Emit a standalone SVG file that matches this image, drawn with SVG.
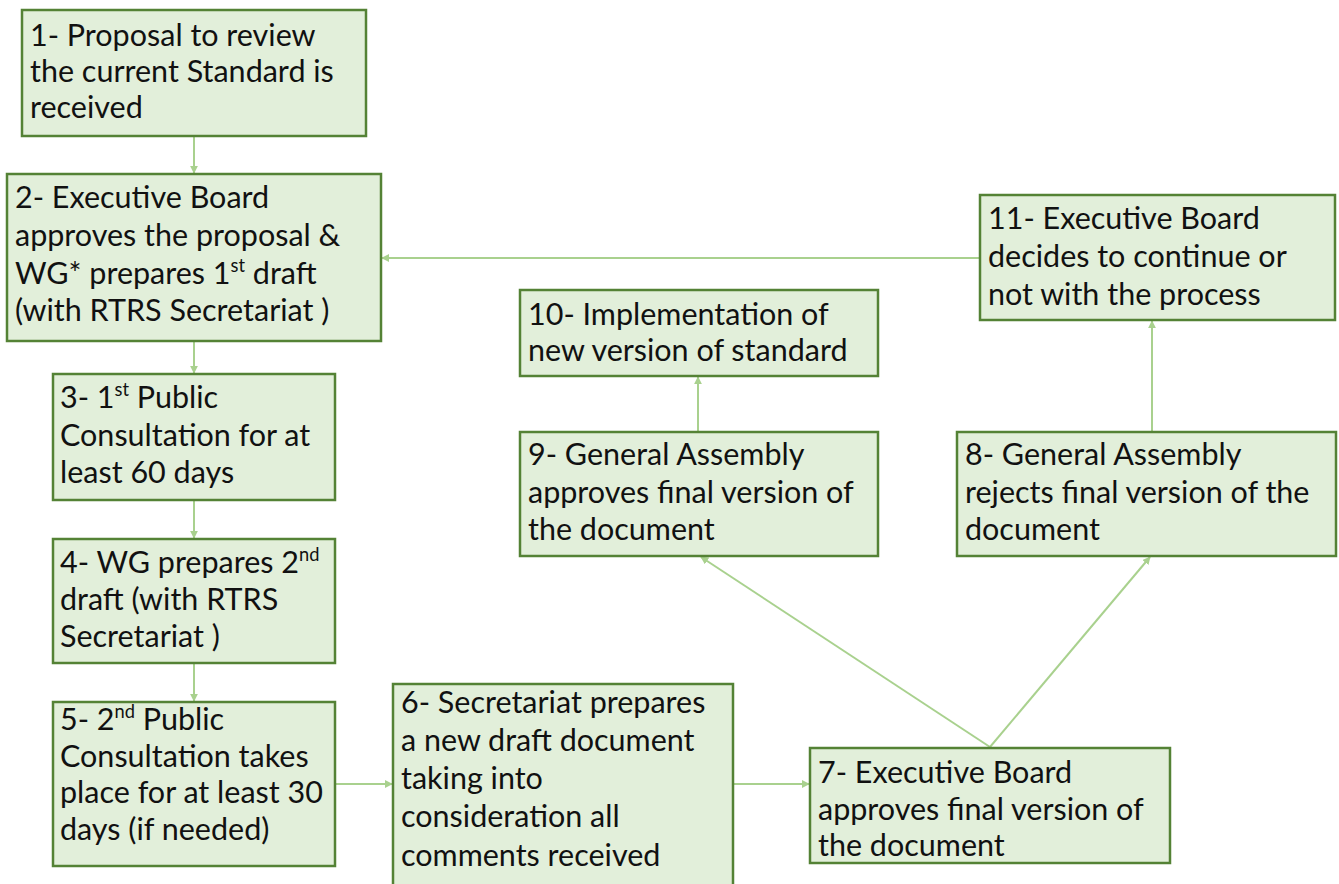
<svg xmlns="http://www.w3.org/2000/svg" width="1339" height="884" viewBox="0 0 1339 884">
<style>
.box{fill:#e2efda;stroke:#548235;stroke-width:2.5}
.w,.n{font-family:Lato,"Liberation Sans",sans-serif;font-size:30.5px;fill:#111}
.sup{font-size:60%}
.c{stroke:#a9d18e;stroke-width:2;fill:none;marker-end:url(#ah)}
</style>
<defs>
<marker id="ah" viewBox="0 0 10 10" refX="9" refY="5" markerWidth="4" markerHeight="4" orient="auto" markerUnits="strokeWidth">
<path d="M0,0 L10,5 L0,10 z" fill="#a9d18e"/>
</marker>
</defs>
<rect width="1339" height="884" fill="#fff"/>
<g id="connectors">
<line class="c" x1="194" y1="137" x2="194" y2="173"/>
<line class="c" x1="194" y1="342" x2="194" y2="373"/>
<line class="c" x1="194" y1="501" x2="194" y2="538"/>
<line class="c" x1="194" y1="664" x2="194" y2="701"/>
<line class="c" x1="336" y1="784" x2="392" y2="784"/>
<line class="c" x1="734" y1="784" x2="809" y2="784"/>
<line class="c" x1="990" y1="747" x2="701" y2="557"/>
<line class="c" x1="990" y1="747" x2="1150" y2="557"/>
<line class="c" x1="1152" y1="431" x2="1152" y2="321"/>
<line class="c" x1="698" y1="431" x2="698" y2="377"/>
<line class="c" x1="979" y1="258" x2="382" y2="258"/>
</g>
<g id="node1"><rect class="box" x="22" y="10" width="344" height="126"/>
<text class="w"><tspan x="30" y="46">1- Proposal to review</tspan><tspan x="30" y="82">the current Standard is</tspan><tspan x="30" y="118">received</tspan></text></g>
<g id="node2"><rect class="box" x="7" y="174" width="374" height="167"/>
<text class="w"><tspan x="15" y="208">2- Executive Board</tspan><tspan x="15" y="246">approves the proposal &amp;</tspan><tspan x="15" y="284">WG* prepares 1<tspan class="sup" dy="-12">st</tspan><tspan dy="12"> draft</tspan></tspan><tspan x="15" y="321">(with RTRS Secretariat )</tspan></text></g>
<g id="node3"><rect class="box" x="53" y="374" width="282" height="126"/>
<text class="w"><tspan x="60" y="408">3- 1<tspan class="sup" dy="-12">st</tspan><tspan dy="12"> Public</tspan></tspan><tspan x="60" y="446">Consultation for at</tspan><tspan x="60" y="483">least 60 days</tspan></text></g>
<g id="node4"><rect class="box" x="53" y="539" width="282" height="124"/>
<text class="w"><tspan x="60" y="573">4- WG prepares 2<tspan class="sup" dy="-12">nd</tspan></tspan><tspan x="60" y="610">draft (with RTRS</tspan><tspan x="60" y="647">Secretariat )</tspan></text></g>
<g id="node5"><rect class="box" x="53" y="702" width="282" height="164"/>
<text class="n"><tspan x="60" y="730">5- 2<tspan class="sup" dy="-12">nd</tspan><tspan dy="12"> Public</tspan></tspan><tspan x="60" y="767">Consultation takes</tspan><tspan x="60" y="803">place for at least 30</tspan><tspan x="60" y="840">days (if needed)</tspan></text></g>
<g id="node6"><rect class="box" x="393" y="684" width="340" height="210"/>
<text class="n"><tspan x="401" y="713">6- Secretariat prepares</tspan><tspan x="401" y="751">a new draft document</tspan><tspan x="401" y="789">taking into</tspan><tspan x="401" y="827">consideration all</tspan><tspan x="401" y="866">comments received</tspan></text></g>
<g id="node7"><rect class="box" x="810" y="748" width="360" height="115"/>
<text class="n"><tspan x="818" y="783">7- Executive Board</tspan><tspan x="818" y="820">approves final version of</tspan><tspan x="818" y="856">the document</tspan></text></g>
<g id="node8"><rect class="box" x="957" y="432" width="379" height="124"/>
<text class="w"><tspan x="965" y="465">8- General Assembly</tspan><tspan x="965" y="503">rejects final version of the</tspan><tspan x="965" y="540">document</tspan></text></g>
<g id="node9"><rect class="box" x="520" y="432" width="358" height="124"/>
<text class="w"><tspan x="528" y="465">9- General Assembly</tspan><tspan x="528" y="503">approves final version of</tspan><tspan x="528" y="540">the document</tspan></text></g>
<g id="node10"><rect class="box" x="520" y="290" width="358" height="86"/>
<text class="w"><tspan x="528" y="325">10- Implementation of</tspan><tspan x="528" y="361">new version of standard</tspan></text></g>
<g id="node11"><rect class="box" x="980" y="195" width="355" height="125"/>
<text class="w"><tspan x="988" y="229">11- Executive Board</tspan><tspan x="988" y="267">decides to continue or</tspan><tspan x="988" y="305">not with the process</tspan></text></g>
</svg>
